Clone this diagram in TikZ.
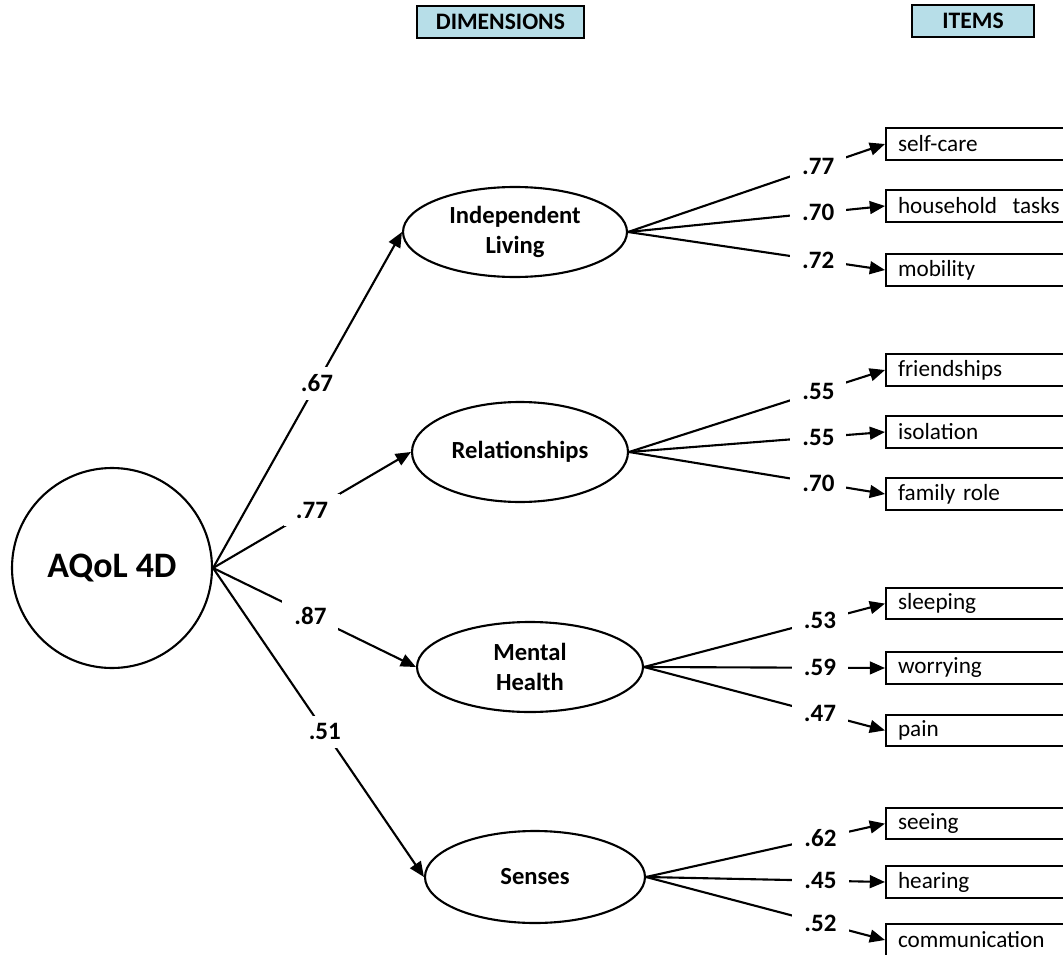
\documentclass[tikz,border=0pt]{standalone}
\usepackage{fontspec}
\setmainfont{Carlito}
\usepackage{xcolor}
\definecolor{headcolor}{RGB}{183, 222, 232}
\usepackage{tikz}
\usetikzlibrary{arrows.meta, shapes.geometric}

\begin{document}
\begin{tikzpicture}[
    line width=1.5pt,
    latent/.style={draw, ellipse, inner sep=0pt, align=center,
      font=\fontsize{17.5}{21}\selectfont\bfseries},
    item/.style={draw, anchor=west, minimum height=0.78cm, text width=4.6cm,
      inner xsep=0.3cm, align=left, font=\fontsize{16.5}{18}\selectfont},
    head/.style={draw, line width=1.8pt, fill=headcolor, minimum height=0.8cm,
      font=\fontsize{16.8}{18}\selectfont\bfseries},
    load/.style={fill=white, inner xsep=0.3cm, inner ysep=0.2cm,
      font=\fontsize{17.8}{20}\selectfont\bfseries},
    tip/.style={-{Triangle[length=0.38cm,width=0.32cm]}}
  ]
  \useasboundingbox (0,0) rectangle (26.575,-23.875);

  % headers
  \node[head, minimum width=4.175cm] (dimhead) at (12.51,-0.55) {DIMENSIONS};
  \node[head, minimum width=3.05cm] (itemhead) at (24.325,-0.525) {ITEMS};

  % general factor and dimensions
  \node[draw, circle, minimum size=5cm, inner sep=0pt,
    font=\fontsize{25.5}{28}\selectfont\bfseries] (aqol) at (2.8,-14.2) {AQoL 4D};
  \node[latent, minimum width=5.6cm, minimum height=2.25cm] (indep) at (12.875,-5.8) {Independent\\Living};
  \node[latent, minimum width=5.4cm, minimum height=2.5cm] (relat) at (13.0,-11.3) {Relationships};
  \node[latent, minimum width=5.65cm, minimum height=2.25cm] (mental) at (13.25,-16.675) {Mental\\Health};
  \node[latent, minimum width=5.5cm, minimum height=2.3cm] (senses) at (13.375,-21.925) {Senses};

  % items
  \node[item] (selfcare) at (22.125,-3.6) {self-care};
  \node[item] (household) at (22.125,-5.15) {household~ tasks};
  \node[item] (mobility) at (22.125,-6.75) {mobility};
  \node[item] (friends) at (22.125,-9.25) {friendships};
  \node[item] (isolation) at (22.125,-10.8) {isolation};
  \node[item] (family) at (22.125,-12.35) {family role};
  \node[item] (sleeping) at (22.125,-15.09) {sleeping};
  \node[item] (worrying) at (22.125,-16.7) {worrying};
  \node[item] (pain) at (22.125,-18.26) {pain};
  \node[item] (seeing) at (22.125,-20.59) {seeing};
  \node[item] (hearing) at (22.125,-22.05) {hearing};
  \node[item] (communic) at (22.125,-23.5) {communication};

  \path[tip]
    (aqol.east) edge node[load, pos=0.55] {.67} (indep.west)
    (aqol.east) edge node[load, pos=0.5] {.77} (relat.west)
    (aqol.east) edge node[load, pos=0.48] {.87} (mental.west)
    (aqol.east) edge node[load, pos=0.53] {.51} (senses.west)
    (indep.east) edge node[load, pos=0.74] {.77} (selfcare.west)
    (indep.east) edge node[load, pos=0.74] {.70} (household.west)
    (indep.east) edge node[load, pos=0.74] {.72} (mobility.west)
    (relat.east) edge node[load, pos=0.74] {.55} (friends.west)
    (relat.east) edge node[load, pos=0.74] {.55} (isolation.west)
    (relat.east) edge node[load, pos=0.74] {.70} (family.west)
    (mental.east) edge node[load, pos=0.73] {.53} (sleeping.west)
    (mental.east) edge node[load, pos=0.73] {.59} (worrying.west)
    (mental.east) edge node[load, pos=0.73] {.47} (pain.west)
    (senses.east) edge node[load, pos=0.73] {.62} (seeing.west)
    (senses.east) edge node[load, pos=0.73] {.45} (hearing.west)
    (senses.east) edge node[load, pos=0.73] {.52} (communic.west)
    ;
\end{tikzpicture}
\end{document}
